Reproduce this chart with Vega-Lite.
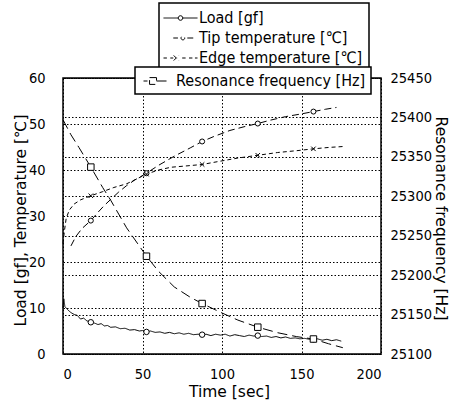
{
  "$schema": "https://vega.github.io/schema/vega-lite/v6.json",
  "width": 318,
  "height": 276,
  "autosize": {"type": "none"},
  "padding": {"left": 63, "top": 78, "right": 74, "bottom": 52},
  "background": "white",
  "config": {
    "font": "DejaVu Sans Condensed",
    "view": {"stroke": "black", "strokeWidth": 1.5},
    "axis": {
      "labelFont": "DejaVu Sans Condensed",
      "labelFontSize": 14.5,
      "labelColor": "black",
      "titleFont": "DejaVu Sans",
      "titleFontSize": 15.5,
      "titleFontWeight": "normal",
      "titleColor": "black",
      "grid": true,
      "gridColor": "black",
      "gridDash": [1.5, 2],
      "gridOpacity": 1,
      "gridWidth": 1,
      "domain": false,
      "ticks": false
    },
    "legend": {
      "labelFont": "DejaVu Sans Condensed",
      "labelFontSize": 16,
      "labelColor": "black",
      "labelLimit": 400,
      "strokeColor": "black",
      "strokeWidth": 1.5,
      "fillColor": "white",
      "symbolSize": 289,
      "symbolStrokeColor": "black",
      "symbolStrokeWidth": 1,
      "title": null
    }
  },
  "datasets": {
    "left": [
      {"s": "Load [gf]", "t": 0, "v": 10.0},
      {"s": "Load [gf]", "t": 0.5, "v": 12.0},
      {"s": "Load [gf]", "t": 1.2, "v": 10.3},
      {"s": "Load [gf]", "t": 3, "v": 9.6},
      {"s": "Load [gf]", "t": 5, "v": 9.0},
      {"s": "Load [gf]", "t": 7, "v": 8.6},
      {"s": "Load [gf]", "t": 9, "v": 8.4},
      {"s": "Load [gf]", "t": 11, "v": 7.6},
      {"s": "Load [gf]", "t": 13, "v": 7.8},
      {"s": "Load [gf]", "t": 15, "v": 7.2},
      {"s": "Load [gf]", "t": 17.5, "v": 6.9},
      {"s": "Load [gf]", "t": 20, "v": 6.7},
      {"s": "Load [gf]", "t": 22, "v": 6.4},
      {"s": "Load [gf]", "t": 24, "v": 6.6},
      {"s": "Load [gf]", "t": 26, "v": 6.1},
      {"s": "Load [gf]", "t": 28, "v": 6.2},
      {"s": "Load [gf]", "t": 30, "v": 5.8},
      {"s": "Load [gf]", "t": 33, "v": 5.9},
      {"s": "Load [gf]", "t": 36, "v": 5.5},
      {"s": "Load [gf]", "t": 39, "v": 5.6},
      {"s": "Load [gf]", "t": 42, "v": 5.2},
      {"s": "Load [gf]", "t": 45, "v": 5.3},
      {"s": "Load [gf]", "t": 48, "v": 5.0},
      {"s": "Load [gf]", "t": 50, "v": 5.1},
      {"s": "Load [gf]", "t": 52.5, "v": 4.8},
      {"s": "Load [gf]", "t": 55, "v": 5.0},
      {"s": "Load [gf]", "t": 58, "v": 4.7},
      {"s": "Load [gf]", "t": 61, "v": 4.8},
      {"s": "Load [gf]", "t": 64, "v": 4.5},
      {"s": "Load [gf]", "t": 67, "v": 4.7},
      {"s": "Load [gf]", "t": 70, "v": 4.4},
      {"s": "Load [gf]", "t": 73, "v": 4.6},
      {"s": "Load [gf]", "t": 76, "v": 4.3},
      {"s": "Load [gf]", "t": 79, "v": 4.5},
      {"s": "Load [gf]", "t": 82, "v": 4.2},
      {"s": "Load [gf]", "t": 85, "v": 4.3},
      {"s": "Load [gf]", "t": 87.5, "v": 4.2},
      {"s": "Load [gf]", "t": 90, "v": 4.3},
      {"s": "Load [gf]", "t": 93, "v": 4.0},
      {"s": "Load [gf]", "t": 96, "v": 4.3},
      {"s": "Load [gf]", "t": 99, "v": 4.1},
      {"s": "Load [gf]", "t": 102, "v": 4.3},
      {"s": "Load [gf]", "t": 105, "v": 3.9},
      {"s": "Load [gf]", "t": 108, "v": 4.2},
      {"s": "Load [gf]", "t": 111, "v": 4.0},
      {"s": "Load [gf]", "t": 114, "v": 3.8},
      {"s": "Load [gf]", "t": 117, "v": 4.1},
      {"s": "Load [gf]", "t": 120, "v": 3.9},
      {"s": "Load [gf]", "t": 122.5, "v": 4.0},
      {"s": "Load [gf]", "t": 125, "v": 3.8},
      {"s": "Load [gf]", "t": 128, "v": 3.9},
      {"s": "Load [gf]", "t": 131, "v": 3.6},
      {"s": "Load [gf]", "t": 134, "v": 3.8},
      {"s": "Load [gf]", "t": 137, "v": 3.5},
      {"s": "Load [gf]", "t": 140, "v": 3.7},
      {"s": "Load [gf]", "t": 143, "v": 3.4},
      {"s": "Load [gf]", "t": 146, "v": 3.5},
      {"s": "Load [gf]", "t": 149, "v": 3.3},
      {"s": "Load [gf]", "t": 152, "v": 3.4},
      {"s": "Load [gf]", "t": 155, "v": 3.2},
      {"s": "Load [gf]", "t": 157.5, "v": 3.2},
      {"s": "Load [gf]", "t": 160, "v": 3.3},
      {"s": "Load [gf]", "t": 163, "v": 3.0},
      {"s": "Load [gf]", "t": 166, "v": 3.2},
      {"s": "Load [gf]", "t": 169, "v": 2.9},
      {"s": "Load [gf]", "t": 172, "v": 3.1},
      {"s": "Load [gf]", "t": 175, "v": 2.8},
      {"s": "Tip temperature [℃]", "t": 5, "v": 23.5},
      {"s": "Tip temperature [℃]", "t": 8, "v": 25.5},
      {"s": "Tip temperature [℃]", "t": 12, "v": 27.3},
      {"s": "Tip temperature [℃]", "t": 17.5, "v": 29.0},
      {"s": "Tip temperature [℃]", "t": 22, "v": 30.8},
      {"s": "Tip temperature [℃]", "t": 26, "v": 32.3},
      {"s": "Tip temperature [℃]", "t": 30, "v": 33.6},
      {"s": "Tip temperature [℃]", "t": 35, "v": 35.2},
      {"s": "Tip temperature [℃]", "t": 40, "v": 36.6},
      {"s": "Tip temperature [℃]", "t": 45, "v": 37.8},
      {"s": "Tip temperature [℃]", "t": 52.5, "v": 39.3},
      {"s": "Tip temperature [℃]", "t": 60, "v": 41.0},
      {"s": "Tip temperature [℃]", "t": 70, "v": 43.0},
      {"s": "Tip temperature [℃]", "t": 80, "v": 44.8},
      {"s": "Tip temperature [℃]", "t": 87.5, "v": 46.2},
      {"s": "Tip temperature [℃]", "t": 95, "v": 47.3},
      {"s": "Tip temperature [℃]", "t": 105, "v": 48.6},
      {"s": "Tip temperature [℃]", "t": 115, "v": 49.5},
      {"s": "Tip temperature [℃]", "t": 122.5, "v": 50.1},
      {"s": "Tip temperature [℃]", "t": 130, "v": 50.8},
      {"s": "Tip temperature [℃]", "t": 140, "v": 51.6},
      {"s": "Tip temperature [℃]", "t": 150, "v": 52.2},
      {"s": "Tip temperature [℃]", "t": 157.5, "v": 52.7},
      {"s": "Tip temperature [℃]", "t": 165, "v": 53.2},
      {"s": "Tip temperature [℃]", "t": 172, "v": 53.6},
      {"s": "Edge temperature [℃]", "t": 0, "v": 24.0},
      {"s": "Edge temperature [℃]", "t": 0.8, "v": 26.5},
      {"s": "Edge temperature [℃]", "t": 2, "v": 29.5},
      {"s": "Edge temperature [℃]", "t": 4, "v": 31.3},
      {"s": "Edge temperature [℃]", "t": 7, "v": 32.6},
      {"s": "Edge temperature [℃]", "t": 11, "v": 33.5},
      {"s": "Edge temperature [℃]", "t": 17.5, "v": 34.4},
      {"s": "Edge temperature [℃]", "t": 25, "v": 35.3},
      {"s": "Edge temperature [℃]", "t": 32, "v": 36.2},
      {"s": "Edge temperature [℃]", "t": 40, "v": 37.0},
      {"s": "Edge temperature [℃]", "t": 46, "v": 38.0},
      {"s": "Edge temperature [℃]", "t": 52.5, "v": 39.1},
      {"s": "Edge temperature [℃]", "t": 60, "v": 40.0},
      {"s": "Edge temperature [℃]", "t": 68, "v": 40.6},
      {"s": "Edge temperature [℃]", "t": 78, "v": 40.9},
      {"s": "Edge temperature [℃]", "t": 87.5, "v": 41.2},
      {"s": "Edge temperature [℃]", "t": 97, "v": 41.8},
      {"s": "Edge temperature [℃]", "t": 110, "v": 42.6},
      {"s": "Edge temperature [℃]", "t": 122.5, "v": 43.2},
      {"s": "Edge temperature [℃]", "t": 135, "v": 43.8},
      {"s": "Edge temperature [℃]", "t": 147, "v": 44.2},
      {"s": "Edge temperature [℃]", "t": 157.5, "v": 44.6},
      {"s": "Edge temperature [℃]", "t": 167, "v": 44.9},
      {"s": "Edge temperature [℃]", "t": 176, "v": 45.1}
    ],
    "leftMarks": [
      {"s": "Load [gf]", "t": 17.5, "v": 6.9},
      {"s": "Load [gf]", "t": 52.5, "v": 4.8},
      {"s": "Load [gf]", "t": 87.5, "v": 4.2},
      {"s": "Load [gf]", "t": 122.5, "v": 4.0},
      {"s": "Load [gf]", "t": 157.5, "v": 3.2},
      {"s": "Tip temperature [℃]", "t": 17.5, "v": 29.0},
      {"s": "Tip temperature [℃]", "t": 52.5, "v": 39.3},
      {"s": "Tip temperature [℃]", "t": 87.5, "v": 46.2},
      {"s": "Tip temperature [℃]", "t": 122.5, "v": 50.1},
      {"s": "Tip temperature [℃]", "t": 157.5, "v": 52.7},
      {"s": "Edge temperature [℃]", "t": 17.5, "v": 34.4},
      {"s": "Edge temperature [℃]", "t": 52.5, "v": 39.1},
      {"s": "Edge temperature [℃]", "t": 87.5, "v": 41.2},
      {"s": "Edge temperature [℃]", "t": 122.5, "v": 43.2},
      {"s": "Edge temperature [℃]", "t": 157.5, "v": 44.6}
    ],
    "freq": [
      {"s": "Resonance frequency [Hz]", "t": 0, "hz": 25397},
      {"s": "Resonance frequency [Hz]", "t": 5, "hz": 25378},
      {"s": "Resonance frequency [Hz]", "t": 10, "hz": 25362},
      {"s": "Resonance frequency [Hz]", "t": 17.5, "hz": 25337},
      {"s": "Resonance frequency [Hz]", "t": 25, "hz": 25311},
      {"s": "Resonance frequency [Hz]", "t": 30, "hz": 25295},
      {"s": "Resonance frequency [Hz]", "t": 40, "hz": 25260},
      {"s": "Resonance frequency [Hz]", "t": 52.5, "hz": 25224},
      {"s": "Resonance frequency [Hz]", "t": 60, "hz": 25205},
      {"s": "Resonance frequency [Hz]", "t": 70, "hz": 25185},
      {"s": "Resonance frequency [Hz]", "t": 80, "hz": 25172},
      {"s": "Resonance frequency [Hz]", "t": 87.5, "hz": 25164},
      {"s": "Resonance frequency [Hz]", "t": 100, "hz": 25152},
      {"s": "Resonance frequency [Hz]", "t": 110, "hz": 25143},
      {"s": "Resonance frequency [Hz]", "t": 122.5, "hz": 25134},
      {"s": "Resonance frequency [Hz]", "t": 135, "hz": 25127},
      {"s": "Resonance frequency [Hz]", "t": 147, "hz": 25122},
      {"s": "Resonance frequency [Hz]", "t": 157.5, "hz": 25119},
      {"s": "Resonance frequency [Hz]", "t": 167, "hz": 25113},
      {"s": "Resonance frequency [Hz]", "t": 176, "hz": 25108}
    ],
    "freqMarks": [
      {"s": "Resonance frequency [Hz]", "t": 17.5, "hz": 25337},
      {"s": "Resonance frequency [Hz]", "t": 52.5, "hz": 25224},
      {"s": "Resonance frequency [Hz]", "t": 87.5, "hz": 25164},
      {"s": "Resonance frequency [Hz]", "t": 122.5, "hz": 25134},
      {"s": "Resonance frequency [Hz]", "t": 157.5, "hz": 25119}
    ]
  },
  "encoding": {
    "x": {
      "field": "t",
      "type": "quantitative",
      "scale": {"domain": [0, 200], "nice": false},
      "axis": {
        "title": "Time [sec]",
        "values": [0, 50, 100, 150, 200],
        "labelPadding": 13,
        "titlePadding": 4,
        "titleX": 166
      }
    }
  },
  "layer": [
    {
      "encoding": {
        "y": {
          "field": "v",
          "type": "quantitative",
          "scale": {"domain": [0, 60], "nice": false},
          "axis": {
            "title": "Load [gf], Temperature [℃]",
            "values": [0, 10, 20, 30, 40, 50, 60],
            "labelPadding": 18,
            "titlePadding": 0,
            "titleAlign": "center",
            "titleY": 142
          }
        }
      },
      "layer": [
        {
          "data": {"name": "left"},
          "mark": {"type": "line", "color": "black", "strokeWidth": 1},
          "encoding": {
            "strokeDash": {
              "field": "s",
              "type": "nominal",
              "scale": {
                "domain": ["Load [gf]", "Tip temperature [℃]", "Edge temperature [℃]"],
                "range": [[1, 0], [7, 4], [4, 3]]
              },
              "legend": {
                "orient": "none",
                "legendX": 96,
                "legendY": -75,
                "padding": 6,
                "rowPadding": 3,
                "symbolOffset": 6.5,
                "labelOffset": 9.5,
                "zindex": 1,
                "encode": {
                  "symbols": {
                    "update": {
                      "shape": {"signal": "datum.value === 'Load [gf]' ? 'M-2,0H-0.27M0.27,0H2M0.27,0A0.27,0.27,0,1,1,-0.27,0A0.27,0.27,0,1,1,0.27,0Z' : datum.value === 'Tip temperature [℃]' ? 'M-0.85,0H-0.3M0.8,0H1.5M0.5,0A0.22,0.22,0,1,1,0.06,0A0.22,0.22,0,1,1,0.5,0Z' : 'M-2,0H-1.6M-1.2,0H-0.85M-0.8,-0.3L-0.2,0.3M-0.8,0.3L-0.2,-0.3M0.2,0H0.6M1.0,0H1.4M1.7,0H2'"},
                      "strokeDash": {"value": [1, 0]},
                      "fill": {"value": "white"},
                      "stroke": {"value": "black"},
                      "strokeWidth": {"value": 1}
                    }
                  }
                }
              }
            }
          }
        },
        {
          "data": {"name": "leftMarks"},
          "mark": {"type": "point", "filled": true, "fill": "white", "stroke": "black", "strokeWidth": 1, "opacity": 1},
          "encoding": {
            "shape": {
              "field": "s",
              "type": "nominal",
              "scale": {
                "domain": ["Load [gf]", "Tip temperature [℃]", "Edge temperature [℃]"],
                "range": ["circle", "circle", "M-1,-1L1,1M-1,1L1,-1"]
              },
              "legend": null
            },
            "size": {
              "field": "s",
              "type": "nominal",
              "scale": {
                "domain": ["Load [gf]", "Tip temperature [℃]", "Edge temperature [℃]"],
                "range": [30, 20, 30]
              },
              "legend": null
            }
          }
        }
      ]
    },
    {
      "encoding": {
        "y": {
          "field": "hz",
          "type": "quantitative",
          "scale": {"domain": [25100, 25450], "nice": false, "zero": false},
          "axis": {
            "orient": "right",
            "title": "Resonance frequency [Hz]",
            "titleAngle": 90,
            "titleAlign": "center",
            "format": "d",
            "grid": true,
            "values": [25100, 25150, 25200, 25250, 25300, 25350, 25400, 25450],
            "labelPadding": 9,
            "titlePadding": 1,
            "titleY": 140
          }
        }
      },
      "layer": [
        {
          "data": {"name": "freq"},
          "mark": {"type": "line", "color": "black", "strokeWidth": 1},
          "encoding": {
            "strokeDash": {
              "field": "s",
              "type": "nominal",
              "scale": {"domain": ["Resonance frequency [Hz]"], "range": [[10, 5]]},
              "legend": {
                "orient": "none",
                "legendX": 72,
                "legendY": -11,
                "padding": 5,
                "symbolOffset": 6.5,
                "labelOffset": 11.5,
                "zindex": 2,
                "encode": {
                  "symbols": {
                    "update": {
                      "shape": {"signal": "'M-1.41,0H-0.94M-0.7,-0.4H0.12V0.4H-0.7ZM0.12,0H1.76'"},
                      "strokeDash": {"value": [1, 0]},
                      "fill": {"value": "white"},
                      "stroke": {"value": "black"},
                      "strokeWidth": {"value": 1}
                    }
                  }
                }
              }
            }
          }
        },
        {
          "data": {"name": "freqMarks"},
          "mark": {"type": "point", "shape": "square", "size": 42, "filled": true, "fill": "white", "stroke": "black", "strokeWidth": 1, "opacity": 1}
        }
      ]
    }
  ],
  "resolve": {"scale": {"y": "independent", "strokeDash": "independent"}}
}
